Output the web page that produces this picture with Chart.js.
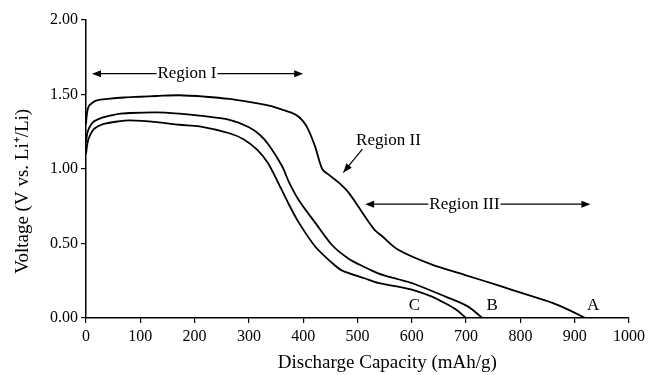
<!DOCTYPE html>
<html>
<head>
<meta charset="utf-8">
<script src="https://cdn.jsdelivr.net/npm/chart.js@4/dist/chart.umd.min.js"></script>
<style>
  html, body { margin: 0; padding: 0; background: #fff; }
  #wrap { width: 649px; height: 375px; }
</style>
</head>
<body>
<div id="wrap"><canvas id="dischargeChart" width="649" height="375"></canvas></div>
<script>
// curve A
const capacityA = [0, 2, 5, 10, 20, 40, 70, 100, 130, 172, 220, 264, 300, 337, 360, 386, 400, 410, 422, 435, 447, 465, 484, 514, 532, 545, 575, 636, 697, 758, 783, 844, 860, 880, 920];
const voltageA = [1.30, 1.38, 1.42, 1.44, 1.46, 1.47, 1.48, 1.485, 1.49, 1.495, 1.485, 1.47, 1.45, 1.425, 1.40, 1.365, 1.32, 1.26, 1.15, 1.0, 0.962, 0.91, 0.84, 0.68, 0.59, 0.55, 0.458, 0.36, 0.29, 0.22, 0.19, 0.12, 0.10, 0.07, 0];
// curve B
const capacityB = [0, 3, 8, 15, 30, 60, 81, 130, 172, 209, 264, 300, 320, 337, 361, 374, 392, 422, 453, 483, 514, 538, 575, 600, 661, 703, 730];
const voltageB = [1.18, 1.25, 1.29, 1.32, 1.345, 1.37, 1.376, 1.38, 1.371, 1.358, 1.33, 1.28, 1.23, 1.16, 1.02, 0.91, 0.79, 0.64, 0.49, 0.40, 0.34, 0.30, 0.26, 0.235, 0.145, 0.078, 0];
// curve C
const capacityC = [0, 3, 8, 15, 30, 60, 81, 130, 172, 209, 264, 290, 315, 335, 355, 374, 392, 422, 453, 471, 514, 538, 575, 600, 636, 661, 680, 700];
const voltageC = [1.10, 1.18, 1.23, 1.27, 1.30, 1.32, 1.326, 1.315, 1.297, 1.286, 1.24, 1.20, 1.13, 1.04, 0.90, 0.76, 0.64, 0.48, 0.37, 0.32, 0.265, 0.235, 0.21, 0.19, 0.145, 0.10, 0.06, 0];

const curveLabels = ["A", "B", "C"];
const labelCapacity = [934, 748, 605];
const labelVoltage = [0.087, 0.087, 0.087];

const xTicks = [0, 100, 200, 300, 400, 500, 600, 700, 800, 900, 1000];
const yTicks = [0, 0.5, 1.0, 1.5, 2.0];

const xTitle = "Discharge Capacity (mAh/g)";
const yTitle = "Voltage (V vs. Li\u207A/Li)";

// region annotations in data units
const regionOne = { text: "Region I", from: 11, to: 400, at: 1.64, center: 186 };
const regionThree = { text: "Region III", from: 514, to: 929, at: 0.764, center: 697 };
const regionTwo = { text: "Region II", x: 557, y: 1.19, arrowFrom: [509, 1.134], arrowTo: [474, 0.977] };

const serif = "'Liberation Serif', 'Times New Roman', serif";

function toPoints(xs, ys) {
  return xs.map((x, i) => ({ x: x, y: ys[i] }));
}

function arrowHead(ctx, x, y, angle) {
  const len = 9, half = 3.5;
  ctx.save();
  ctx.translate(x, y);
  ctx.rotate(angle);
  ctx.beginPath();
  ctx.moveTo(0, 0);
  ctx.lineTo(-len, -half);
  ctx.lineTo(-len, half);
  ctx.closePath();
  ctx.fill();
  ctx.restore();
}

const annotationPlugin = {
  id: "regions",
  afterDraw(chart) {
    const ctx = chart.ctx;
    const xs = chart.scales.x, ys = chart.scales.y;
    ctx.save();
    ctx.fillStyle = "#000";
    ctx.strokeStyle = "#000";
    ctx.lineWidth = 1.2;
    ctx.font = "17px " + serif;
    ctx.textBaseline = "middle";
    ctx.textAlign = "center";

    [regionOne, regionThree].forEach(r => {
      const y = ys.getPixelForValue(r.at);
      const x1 = xs.getPixelForValue(r.from);
      const x2 = xs.getPixelForValue(r.to);
      const cx = xs.getPixelForValue(r.center);
      const w = ctx.measureText(r.text).width;
      ctx.fillText(r.text, cx, y);
      ctx.beginPath();
      ctx.moveTo(x1 + 4, y);
      ctx.lineTo(cx - w / 2 - 1, y);
      ctx.moveTo(cx + w / 2 + 1, y);
      ctx.lineTo(x2 - 4, y);
      ctx.stroke();
      arrowHead(ctx, x1, y, Math.PI);
      arrowHead(ctx, x2, y, 0);
    });

    ctx.fillText(regionTwo.text, xs.getPixelForValue(regionTwo.x), ys.getPixelForValue(regionTwo.y));
    const ax1 = xs.getPixelForValue(regionTwo.arrowFrom[0]);
    const ay1 = ys.getPixelForValue(regionTwo.arrowFrom[1]);
    const ax2 = xs.getPixelForValue(regionTwo.arrowTo[0]);
    const ay2 = ys.getPixelForValue(regionTwo.arrowTo[1]);
    ctx.beginPath();
    ctx.moveTo(ax1, ay1);
    ctx.lineTo(ax2, ay2);
    ctx.stroke();
    arrowHead(ctx, ax2, ay2, Math.atan2(ay2 - ay1, ax2 - ax1));

    curveLabels.forEach((t, i) => {
      ctx.fillText(t, xs.getPixelForValue(labelCapacity[i]), ys.getPixelForValue(labelVoltage[i]));
    });

    // axis titles, placed like the original (a bit off-centre)
    ctx.font = "19px " + serif;
    ctx.fillText(xTitle, xs.getPixelForValue(555), chart.height - 12);
    ctx.save();
    ctx.translate(23, ys.getPixelForValue(0.85));
    ctx.rotate(-Math.PI / 2);
    ctx.fillText(yTitle, 0, 0);
    ctx.restore();
    ctx.restore();
  }
};

const lineStyle = {
  borderColor: "#000",
  borderWidth: 1.8,
  pointRadius: 0,
  tension: 0.3,
  fill: false
};

new Chart(document.getElementById("dischargeChart").getContext("2d"), {
  type: "line",
  data: {
    datasets: [
      Object.assign({ label: "A", data: toPoints(capacityA, voltageA) }, lineStyle),
      Object.assign({ label: "B", data: toPoints(capacityB, voltageB) }, lineStyle),
      Object.assign({ label: "C", data: toPoints(capacityC, voltageC) }, lineStyle)
    ]
  },
  options: {
    responsive: false,
    animation: false,
    layout: { padding: { top: 20, right: 17, left: 0, bottom: 0 } },
    plugins: { legend: { display: false }, tooltip: { enabled: false } },
    scales: {
      x: {
        type: "linear",
        min: 0,
        max: 1000,
        afterBuildTicks: s => { s.ticks = xTicks.map(v => ({ value: v })); },
        afterFit: s => { s.height = 57; },
        border: { color: "#000", width: 1.5 },
        grid: { display: true, drawOnChartArea: false, color: "#000", tickLength: 5, lineWidth: 1.2 },
        ticks: { color: "#000", font: { family: serif, size: 16 }, padding: 4, maxRotation: 0, callback: v => String(v) }
      },
      y: {
        min: 0,
        max: 2,
        afterBuildTicks: s => { s.ticks = yTicks.map(v => ({ value: v })); },
        afterFit: s => { s.width = 86; },
        border: { color: "#000", width: 1.5 },
        grid: { display: true, drawOnChartArea: false, color: "#000", tickLength: 5, lineWidth: 1.2 },
        ticks: { color: "#000", font: { family: serif, size: 16 }, padding: 3, callback: v => v.toFixed(2) }
      }
    }
  },
  plugins: [annotationPlugin]
});
</script>
</body>
</html>
